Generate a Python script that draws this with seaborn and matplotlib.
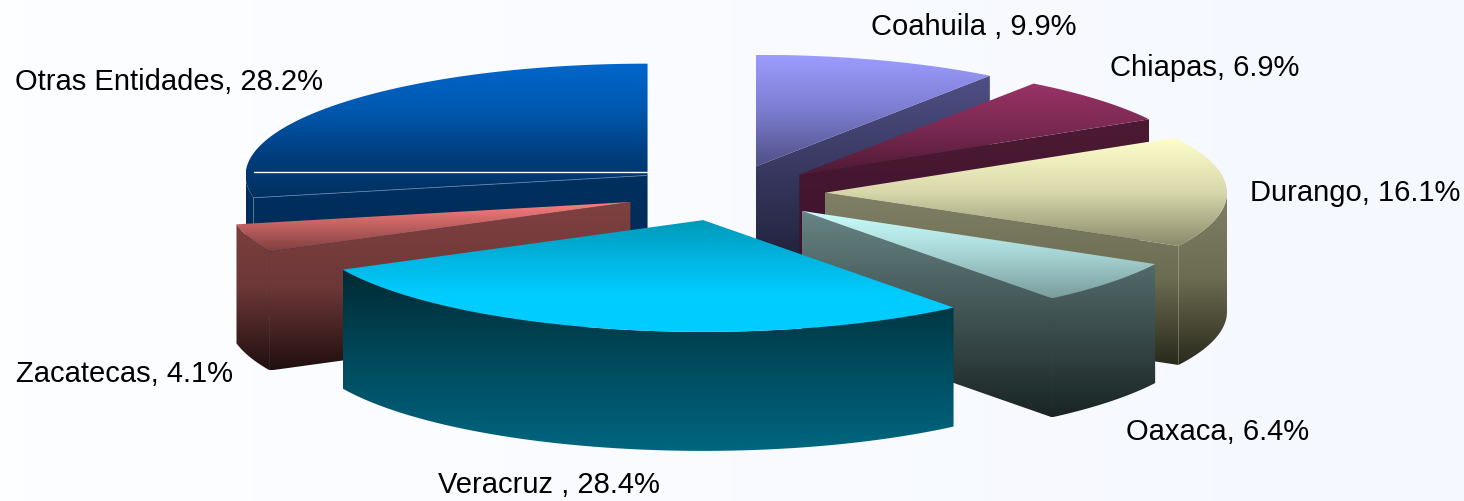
import numpy as np
import matplotlib
matplotlib.use("Agg")
import matplotlib.pyplot as plt
from matplotlib.patches import Polygon
import seaborn as sns

# chart data, clockwise from the top of the pie
states = ["Coahuila ", "Chiapas", "Durango", "Oaxaca", "Veracruz ", "Zacatecas", "Otras Entidades"]
shares = [9.9, 6.9, 16.1, 6.4, 28.4, 4.1, 28.2]

top_colors = [
    ["#9c9cff", "#7c7cd0", "#4f4f85"],
    ["#993366", "#7a2952", "#4d1a33"],
    ["#ffffcc", "#d8d8ac", "#8a8a6c"],
    ["#ccffff", "#a6d4d4", "#7a9c9c"],
    ["#0099b8", "#00b4e0", "#00ccff", "#00ccff"],
    ["#ff8080", "#c06060", "#804040"],
    ["#0066cc", "#0059b0", "#003f80", "#003060"],
]
side_colors = [
    ["#4f4f85", "#1c1c33"],
    ["#4d1a33", "#38102a"],
    ["#808066", "#6c6c52", "#2a2a1c"],
    ["#688484", "#1a2424"],
    ["#002a33", "#004a5c", "#006680"],
    ["#804040", "#6e3838", "#200f0f"],
    ["#003060", "#00264d"],
]
label_pos = [(871, 27), (1110, 68), (1250, 193), (1126, 432), (438, 485), (16, 374), (15, 82)]

# pie geometry, in picture pixels
CENTER = (725, 193)
RADIUS = 402
TILT = 0.278
EXPLODE = 100
DEPTH = 119


def rim(cx, cy, a, b, n=80):
    t = np.radians(np.linspace(a, b, n))
    return cx + RADIUS * np.sin(t), cy - RADIUS * TILT * np.cos(t)


def gradient(ax, xy, colors, y0, y1, z):
    cmap = sns.blend_palette(colors, n_colors=256, as_cmap=True)
    patch = Polygon(xy, closed=True, facecolor="none", edgecolor="none", transform=ax.transData)
    ax.add_patch(patch)
    xs = xy[:, 0]
    im = ax.imshow(np.linspace(0, 1, 256)[:, None], cmap=cmap, aspect="auto", zorder=z,
                   extent=[xs.min(), xs.max(), y1, y0], interpolation="bilinear")
    im.set_clip_path(patch)


sns.set_theme(style="white")
plt.rcParams["font.family"] = ["Liberation Sans", "DejaVu Sans"]

fig = plt.figure(figsize=(14.64, 5.01), dpi=100)
ax = fig.add_axes([0, 0, 1, 1])
ax.set_autoscale_on(False)
ax.set_xlim(0, 1464)
ax.set_ylim(501, 0)
ax.axis("off")

# pale page background
bg = sns.blend_palette(["#fdfeff", "#f5f8ff"], n_colors=64, as_cmap=True)
ax.imshow(np.linspace(0, 1, 64)[None, :], cmap=bg, aspect="auto", extent=[0, 1464, 501, 0], zorder=0)

edges = np.cumsum([0] + shares) / sum(shares) * 360
slices = []
for i in range(len(states)):
    a, b = edges[i], edges[i + 1]
    mid = np.radians((a + b) / 2)
    cx = CENTER[0] + EXPLODE * np.sin(mid)
    cy = CENTER[1] - EXPLODE * TILT * np.cos(mid)
    slices.append((cy, cx, a, b, i))

# back slices first so the front ones cover them
z = 1
for cy, cx, a, b, i in sorted(slices):
    faces = []
    if np.sin(np.radians(a)) < -1e-6:
        x, y = rim(cx, cy, a, a, 1)
        faces.append(np.array([[cx, cy], [x[0], y[0]], [x[0], y[0] + DEPTH], [cx, cy + DEPTH]]))
    if np.sin(np.radians(b)) > 1e-6:
        x, y = rim(cx, cy, b, b, 1)
        faces.append(np.array([[cx, cy], [x[0], y[0]], [x[0], y[0] + DEPTH], [cx, cy + DEPTH]]))
    lo, hi = max(a, 90), min(b, 270)
    if lo < hi:
        x, y = rim(cx, cy, lo, hi)
        faces.append(np.r_[np.c_[x, y], np.c_[x[::-1], y[::-1] + DEPTH]])
    if faces:
        y0 = min(f[:, 1].min() for f in faces)
        y1 = max(f[:, 1].max() for f in faces)
        for f in faces:
            gradient(ax, f, side_colors[i], y0, y1, z)
            z += 1
    x, y = rim(cx, cy, a, b)
    top = np.r_[[[cx, cy]], np.c_[x, y]]
    gradient(ax, top, top_colors[i], top[:, 1].min(), top[:, 1].max(), z)
    z += 1
    if states[i] == "Otras Entidades":
        # seam lines that show on the back slice
        ax.plot([x[0], cx], [cy - 3, cy - 3], color="white", lw=1.0, zorder=z)
        ax.plot([x[0], cx], [y[0], cy], color="#5f7fa8", lw=0.6, zorder=z)
        z += 1

for name, share, (lx, ly) in zip(states, shares, label_pos):
    ax.text(lx, ly, f"{name}, {share}%", fontsize=21, color="black", ha="left", va="center", zorder=z)

fig.savefig("out.png", dpi=100)
